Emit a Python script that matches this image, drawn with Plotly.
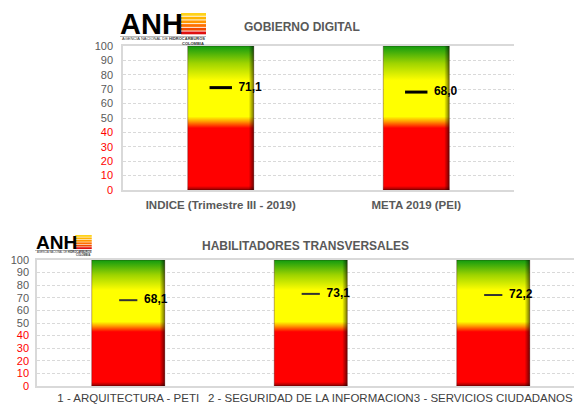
import plotly.graph_objects as go

# ---- data -------------------------------------------------------------
gd_categories = ["INDICE (Trimestre III - 2019)", "META 2019 (PEI)"]
gd_values = [71.1, 68.0]
gd_scale = [100, 100]

ht_categories = ["1 - ARQUITECTURA - PETI", "2 - SEGURIDAD DE LA INFORMACION",
                 "3 - SERVICIOS CIUDADANOS"]
ht_values = [68.1, 73.1, 72.2]
ht_scale = [100, 100, 100]

y_ticks = [0, 10, 20, 30, 40, 50, 60, 70, 80, 90, 100]
red_limit = 40

# ---- canvas helpers (figure drawn with zero margins, so paper == pixels) ----
W, H = 574, 404


def px(x):
    return x / W


def py(y):
    return 1 - y / H


GRAY = "#595959"
SANS = "Arial, Liberation Sans, sans-serif"

# traffic-light gradient used for each gauge column (bottom -> top)
GAUGE_SCALE = [
    [0.0, "#ff0000"], [0.43, "#ff0000"], [0.475, "#ff9900"], [0.51, "#ffff00"],
    [0.76, "#ffff00"], [0.88, "#9fd400"], [1.0, "#109a10"],
]

fig = go.Figure()


def add_gauges(cats, scale, xa, ya, width, px_per_unit_x, px_per_unit_y):
    for i, (c, top) in enumerate(zip(cats, scale)):
        x0, x1 = i - width / 2, i + width / 2
        # coloured column
        fig.add_trace(go.Scatter(
            x=[x0, x1, x1, x0, x0], y=[0, 0, top, top, 0], xaxis=xa, yaxis=ya,
            mode="lines", fill="toself",
            fillgradient=dict(type="vertical", colorscale=GAUGE_SCALE, start=0, stop=top),
            line=dict(color="rgba(60,0,0,0.35)", width=1),
            hoverinfo="skip", showlegend=False))
        # bevel shading on the right edge
        sw = 5 / px_per_unit_x
        fig.add_trace(go.Scatter(
            x=[x1 - sw, x1, x1, x1 - sw, x1 - sw], y=[0, 0, top, top, 0], xaxis=xa, yaxis=ya,
            mode="lines", fill="toself", line=dict(width=0),
            fillgradient=dict(type="horizontal",
                              colorscale=[[0, "rgba(0,0,0,0)"], [1, "rgba(0,0,0,0.55)"]],
                              start=x1 - sw, stop=x1),
            hoverinfo="skip", showlegend=False))
        # bevel shading on the bottom edge
        sh = 4 / px_per_unit_y
        fig.add_trace(go.Scatter(
            x=[x0, x1, x1, x0, x0], y=[0, 0, sh, sh, 0], xaxis=xa, yaxis=ya,
            mode="lines", fill="toself", line=dict(width=0),
            fillgradient=dict(type="vertical",
                              colorscale=[[0, "rgba(0,0,0,0.45)"], [1, "rgba(0,0,0,0)"]],
                              start=0, stop=sh),
            hoverinfo="skip", showlegend=False))


def add_markers(vals, xa, ya, size, lw, color):
    fig.add_trace(go.Scatter(
        x=list(range(len(vals))), y=vals, xaxis=xa, yaxis=ya,
        mode="markers+text",
        marker=dict(symbol="line-ew", size=size, line=dict(width=lw, color=color)),
        texttemplate="  %{y:.1f}", textposition="middle right",
        textfont=dict(family=SANS, size=12, color="black", weight="bold"),
        hoverinfo="skip", showlegend=False, cliponaxis=False))


# top panel: plot area x 123..514, y 46..190
add_gauges(gd_categories, gd_scale, "x", "y", 0.3376, 195.5, 1.44)
add_markers(gd_values, "x", "y", 16, 3, "black")
# bottom panel: plot area x 37..574, y 260..386
add_gauges(ht_categories, ht_scale, "x2", "y2", 0.40, 182.5, 1.26)
add_markers(ht_values, "x2", "y2", 13, 2, "#333333")

tick_text = [f'<span style="color:{"#ff0000" if v <= red_limit else GRAY}">{v}</span>'
             for v in y_ticks]

yaxis_common = dict(
    range=[0, 100], tickvals=y_ticks, ticktext=tick_text, automargin=False,
    showgrid=True, gridcolor="#d9d9d9", griddash="3px,2px", gridwidth=1,
    showline=True, linecolor="#d9d9d9", linewidth=1.5, zeroline=False,
    ticks="", tickfont=dict(family=SANS, size=11, color=GRAY),
    fixedrange=True,
)
xaxis_common = dict(
    showgrid=False, zeroline=False, showline=True, linecolor="#d9d9d9", linewidth=1.5,
    mirror=True, ticks="", tickangle=0, ticklabeloverflow="allow", fixedrange=True,
    automargin=False,
)

fig.update_layout(
    width=W, height=H, margin=dict(l=0, r=0, t=0, b=0, pad=0),
    paper_bgcolor="white", plot_bgcolor="white", separators=",.",
    xaxis=dict(xaxis_common, domain=[px(123), px(514)], range=[-0.5, 1.5], anchor="y",
               tickvals=[0, 1], ticktext=gd_categories, ticklabelstandoff=3,
               tickfont=dict(family=SANS, size=11.5, color=GRAY, weight="bold")),
    yaxis=dict(yaxis_common, domain=[py(190), py(46)], anchor="x", ticklabelstandoff=6),
    xaxis2=dict(xaxis_common, domain=[px(37), 1.0], range=[-0.5, 2.4425], anchor="y2",
                tickvals=[0, 1, 2], ticktext=ht_categories, ticklabelstandoff=0,
                tickfont=dict(family=SANS, size=11.5, color="#404040")),
    yaxis2=dict(yaxis_common, domain=[py(386), py(260)], anchor="x2", ticklabelstandoff=4),
)

# panel titles
fig.add_annotation(text="<b>GOBIERNO DIGITAL</b>", x=px(302), y=py(27), xref="paper",
                   yref="paper", showarrow=False, yanchor="middle",
                   font=dict(family=SANS, size=12, color=GRAY))
fig.add_annotation(text="<b>HABILITADORES TRANSVERSALES</b>", x=px(305), y=py(246),
                   xref="paper", yref="paper", showarrow=False, yanchor="middle",
                   font=dict(family=SANS, size=12, color=GRAY))


# ANH logo: lettering plus striped emblem
def draw_logo(x0, y0, s):
    fig.add_annotation(text="<b>ANH</b>", x=px(x0 - 2 * s), y=py(y0 + 11 * s),
                       xref="paper", yref="paper", xanchor="left", yanchor="middle",
                       showarrow=False,
                       font=dict(family=SANS, size=29 * s, color="black"))
    stripe_cols = ["#ffd21a", "#ffb400", "#ff9600", "#ff7000", "#f04a00", "#e01010"]
    ex0, ex1 = x0 + 61 * s, x0 + 86 * s
    for k, col in enumerate(stripe_cols):
        top = y0 + k * 3.7 * s
        fig.add_shape(type="rect", xref="paper", yref="paper",
                      x0=px(ex0), x1=px(ex1), y0=py(top + 2.8 * s), y1=py(top),
                      fillcolor=col, line=dict(width=0), layer="above")
    fig.add_shape(type="line", xref="paper", yref="paper",
                  x0=px(x0), x1=px(ex1), y0=py(y0 + 23.5 * s), y1=py(y0 + 23.5 * s),
                  line=dict(color="#888888", width=0.6))
    fig.add_annotation(text="AGENCIA NACIONAL DE <b>HIDROCARBUROS</b>", x=px(x0),
                       y=py(y0 + 26 * s), xref="paper", yref="paper", xanchor="left",
                       yanchor="middle", showarrow=False,
                       font=dict(family=SANS, size=4 * s, color="#333333"))
    fig.add_annotation(text="<b>COLOMBIA</b>", x=px(x0 + 73 * s), y=py(y0 + 31 * s),
                       xref="paper", yref="paper", xanchor="center", yanchor="middle",
                       showarrow=False,
                       font=dict(family=SANS, size=4 * s, color="#333333"))


draw_logo(120, 13, 1.0)
draw_logo(35, 235, 0.66)

fig.write_html("out.html")
